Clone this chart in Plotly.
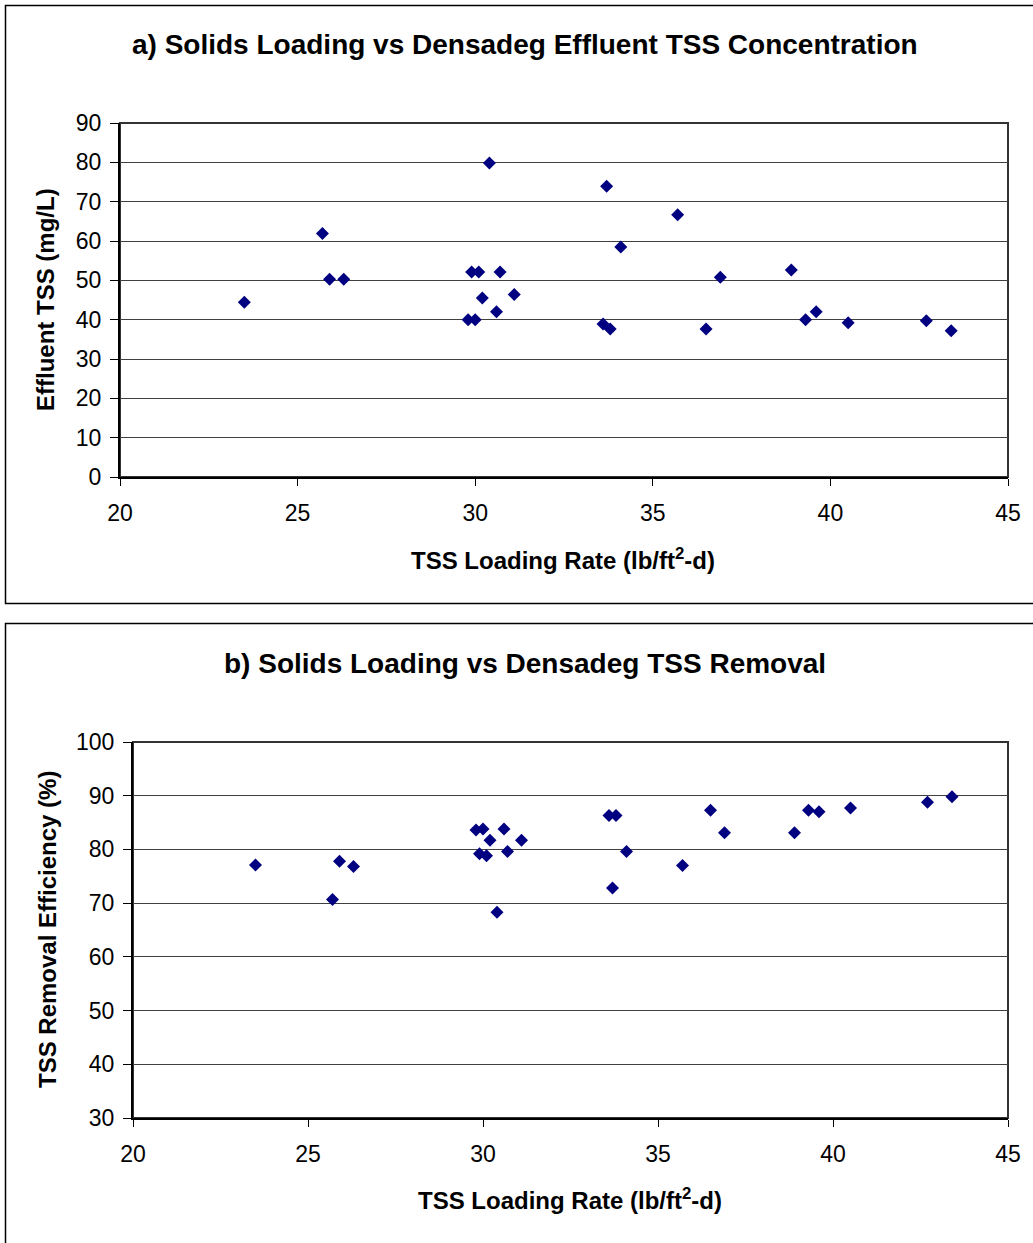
import plotly.graph_objects as go

# ---- Data: panel a) effluent TSS vs loading rate ----
load_a = [23.5, 25.7, 25.9, 26.3, 29.9, 30.1, 30.7, 30.4, 30.2, 31.1, 30.6, 29.8, 30.0,
          33.7, 33.6, 33.8, 34.1, 35.7, 36.5, 36.9, 38.9, 39.3, 39.6, 40.5, 42.7, 43.4]
eff_tss = [44.4, 61.9, 50.3, 50.3, 52.1, 52.1, 52.1, 79.8, 45.5, 46.4, 42.0, 40.0, 40.0,
           73.9, 38.9, 37.6, 58.5, 66.7, 37.6, 50.8, 52.6, 40.0, 42.0, 39.2, 39.7, 37.2]

# ---- Data: panel b) TSS removal vs loading rate ----
load_b = [23.5, 25.9, 26.3, 25.7, 29.8, 30.0, 30.6, 30.2, 31.1, 29.9, 30.1, 30.7, 30.4,
          33.6, 33.8, 33.7, 34.1, 35.7, 36.5, 36.9, 38.9, 39.3, 39.6, 40.5, 42.7, 43.4]
removal = [77.1, 77.8, 76.8, 70.7, 83.6, 83.8, 83.8, 81.7, 81.7, 79.2, 78.8, 79.6, 68.3,
           86.3, 86.3, 72.8, 79.6, 77.0, 87.3, 83.1, 83.1, 87.3, 87.0, 87.7, 88.8, 89.8]

title_a = "a) Solids Loading vs Densadeg Effluent TSS Concentration"
title_b = "b) Solids Loading vs Densadeg TSS Removal"
xtitle = "TSS Loading Rate (lb/ft<sup>2</sup>-d)"
ytitle_a = "Effluent TSS (mg/L)"
ytitle_b = "TSS Removal Efficiency (%)"

W, H = 1033, 1243
FONT = "Liberation Sans, Arial, sans-serif"
NAVY = "#000080"

def px(x):
    return x / W

def py(y):
    return 1 - y / H

fig = go.Figure()
fig.add_trace(go.Scatter(x=load_a, y=eff_tss, mode="markers", xaxis="x", yaxis="y",
                         marker=dict(symbol="diamond", size=10, color=NAVY, line=dict(width=0)),
                         showlegend=False))
fig.add_trace(go.Scatter(x=load_b, y=removal, mode="markers", xaxis="x2", yaxis="y2",
                         marker=dict(symbol="diamond", size=10, color=NAVY, line=dict(width=0)),
                         showlegend=False))

tickfont = dict(family=FONT, size=23, color="black")
common_x = dict(range=[20, 45], dtick=5, tick0=20, showgrid=False, zeroline=False,
                showline=True, linecolor="black", linewidth=2, ticks="outside",
                ticklen=7, tickcolor="black", tickwidth=1, tickfont=tickfont,
                ticklabelstandoff=7, automargin=False)
common_y = dict(dtick=10, showgrid=True, gridcolor="#404040", gridwidth=1, zeroline=False,
                showline=True, linecolor="black", linewidth=2, ticks="outside",
                ticklen=8, tickcolor="black", tickwidth=1, tickfont=tickfont,
                ticklabelstandoff=4, automargin=False)

fig.update_layout(
    width=W, height=H, margin=dict(l=0, r=0, t=0, b=0, pad=0, autoexpand=False),
    paper_bgcolor="white", plot_bgcolor="white",
    xaxis=dict(domain=[px(120), px(1008)], anchor="y", **common_x),
    yaxis=dict(domain=[py(477), py(123)], anchor="x", range=[0, 90], tick0=0, **common_y),
    xaxis2=dict(domain=[px(133), px(1008)], anchor="y2", **common_x),
    yaxis2=dict(domain=[py(1118), py(742)], anchor="x2", range=[30, 100], tick0=30, **common_y),
)

shapes = []
# panel borders
shapes.append(dict(type="rect", xref="paper", yref="paper", x0=px(5.5), x1=px(1045),
                   y0=py(603.5), y1=py(5.5), line=dict(color="black", width=1.5)))
shapes.append(dict(type="rect", xref="paper", yref="paper", x0=px(5.5), x1=px(1045),
                   y0=py(1260), y1=py(623.5), line=dict(color="black", width=1.5)))
# plot-area frames (top/right)
for xr, yr in (("x", "y"), ("x2", "y2")):
    shapes.append(dict(type="rect", xref=f"{xr} domain", yref=f"{yr} domain",
                       x0=0, x1=1, y0=0, y1=1, line=dict(color="#333333", width=2),
                       layer="below"))
fig.update_layout(shapes=shapes)

ann = []
ann.append(dict(text=f"<b>{title_a}</b>", x=px(525), y=py(44), xref="paper", yref="paper",
                showarrow=False, font=dict(family=FONT, size=28, color="black"),
                xanchor="center", yanchor="middle"))
ann.append(dict(text=f"<b>{title_b}</b>", x=px(525), y=py(663), xref="paper", yref="paper",
                showarrow=False, font=dict(family=FONT, size=28, color="black"),
                xanchor="center", yanchor="middle"))
ann.append(dict(text=f"<b>{xtitle}</b>", x=px(563), y=py(559), xref="paper", yref="paper",
                showarrow=False, font=dict(family=FONT, size=24, color="black"),
                xanchor="center", yanchor="middle"))
ann.append(dict(text=f"<b>{xtitle}</b>", x=px(570), y=py(1199), xref="paper", yref="paper",
                showarrow=False, font=dict(family=FONT, size=24, color="black"),
                xanchor="center", yanchor="middle"))
ann.append(dict(text=f"<b>{ytitle_a}</b>", x=px(46), y=py(300), xref="paper", yref="paper",
                showarrow=False, textangle=-90, font=dict(family=FONT, size=24, color="black"),
                xanchor="center", yanchor="middle"))
ann.append(dict(text=f"<b>{ytitle_b}</b>", x=px(47), y=py(930), xref="paper", yref="paper",
                showarrow=False, textangle=-90, font=dict(family=FONT, size=24, color="black"),
                xanchor="center", yanchor="middle"))
fig.update_layout(annotations=ann)

fig.write_html("out.html")
